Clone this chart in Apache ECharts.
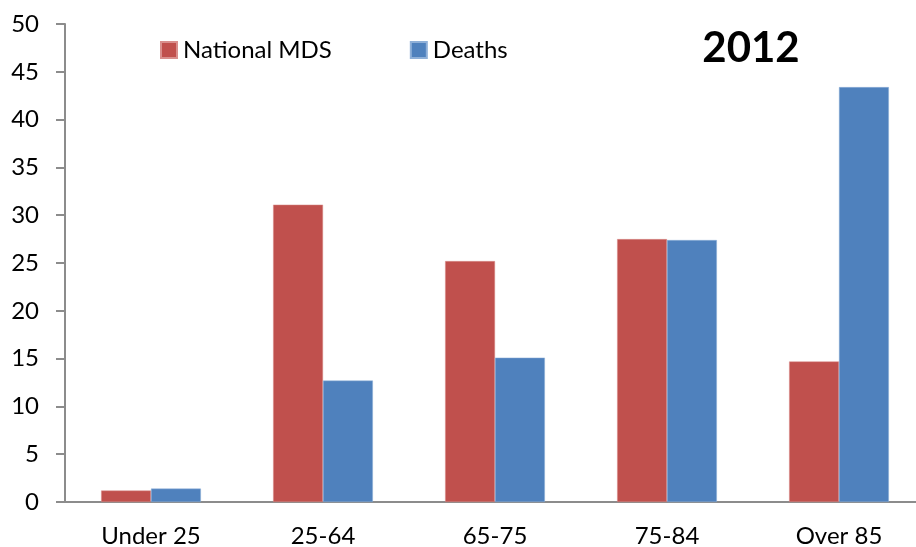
<!DOCTYPE html>
<html>
<head>
<meta charset="utf-8">
<script src="https://cdn.jsdelivr.net/npm/echarts@6/dist/echarts.min.js"></script>
<style>
html, body { margin: 0; padding: 0; background: #fff; }
#chart { width: 916px; height: 547px; }
</style>
</head>
<body>
<div id="chart"></div>
<script>
// age groups and shares (%)
var categories = ['Under 25', '25-64', '65-75', '75-84', 'Over 85'];
var nationalMds = [1.2, 31.1, 25.2, 27.5, 14.7];
var deaths = [1.4, 12.7, 15.1, 27.4, 43.4];

var font = 'Lato, "Open Sans", sans-serif';
var chart = echarts.init(document.getElementById('chart'));
chart.setOption({
    animation: false,
    title: {
        text: '2012',
        left: 746,
        textAlign: 'center',
        top: 22,
        textStyle: { fontFamily: font, fontSize: 42, fontWeight: 'bold', color: '#000' }
    },
    legend: {
        data: ['National MDS', 'Deaths'],
        left: 155,
        top: 33,
        itemWidth: 16,
        itemHeight: 16,
        itemGap: 78,
        icon: 'rect',
        textStyle: { fontFamily: font, fontSize: 24, color: '#000', padding: [0, 0, 0, 1] }
    },
    // the plot runs past the right edge of the picture, like the original
    grid: { left: 65, top: 24, width: 860, height: 478, outerBoundsMode: 'none' },
    xAxis: {
        type: 'category',
        data: categories,
        axisLine: { lineStyle: { color: '#8c8c8c', width: 2 } },
        axisTick: { length: 9, lineStyle: { color: '#8c8c8c', width: 2 } },
        axisLabel: { fontFamily: font, fontSize: 24, color: '#000', margin: 22 }
    },
    yAxis: {
        type: 'value',
        min: 0,
        max: 50,
        interval: 5,
        splitLine: { show: false },
        axisLine: { show: true, lineStyle: { color: '#8c8c8c', width: 2 } },
        axisTick: { show: true, length: 9, lineStyle: { color: '#8c8c8c', width: 2 } },
        axisLabel: { fontFamily: font, fontSize: 24, color: '#000', margin: 26 }
    },
    series: [
        {
            name: 'National MDS',
            type: 'bar',
            data: nationalMds,
            barGap: '0%',
            barCategoryGap: '42%',
            itemStyle: { color: '#C0504D', borderColor: '#d98f8d', borderWidth: 0.5 }
        },
        {
            name: 'Deaths',
            type: 'bar',
            data: deaths,
            itemStyle: { color: '#4F81BD', borderColor: '#8fb0d8', borderWidth: 0.5 }
        }
    ]
});
</script>
</body>
</html>
